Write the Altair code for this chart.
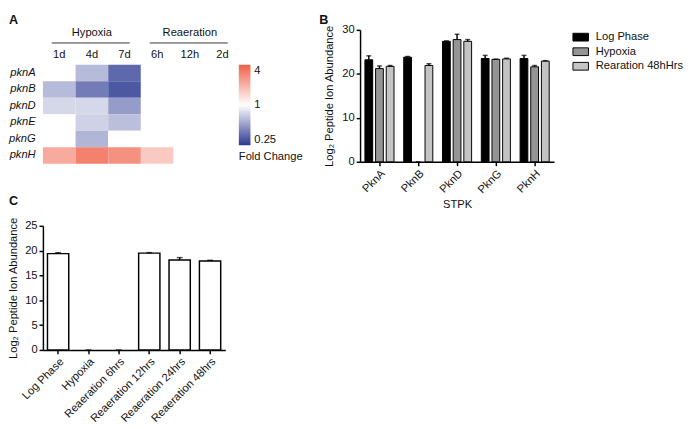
import altair as alt
import pandas as pd

FONT = "Liberation Sans"
INK = "#111111"

# ---------------- Panel A: fold-change heatmap ----------------
genes = ["pknA", "pknB", "pknD", "pknE", "pknG", "pknH"]
timepoints = ["1d", "4d", "7d", "6h", "12h", "2d"]
fc_pknA = [1.0, 0.62, 0.35, 1.0, 1.0, 1.0]
fc_pknB = [0.62, 0.40, 0.31, 1.0, 1.0, 1.0]
fc_pknD = [0.76, 0.76, 0.50, 1.0, 1.0, 1.0]
fc_pknE = [1.0, 0.73, 0.64, 1.0, 1.0, 1.0]
fc_pknG = [1.0, 0.60, 1.0, 1.0, 1.0, 1.0]
fc_pknH = [2.1, 3.0, 2.6, 1.6, 1.0, 1.0]
phase_names = ["Hypoxia", "Reaeration"]
phase_first = [0, 3]
phase_last = [2, 5]
legend_values = [0.25, 1, 4]

# ---------------- Panel B: STPK peptide abundance ----------------
stpk = ["PknA", "PknB", "PknD", "PknG", "PknH"]
conditions = ["Log Phase", "Hypoxia", "Rearation 48hHrs"]
log_mean = [23.2, 23.8, 27.4, 23.5, 23.5]
log_err = [0.9, 0.15, 0.1, 0.7, 0.7]
hyp_mean = [21.2, None, 27.8, 23.3, 21.6]
hyp_err = [0.6, None, 1.2, 0.05, 0.3]
rea_mean = [21.7, 21.9, 27.4, 23.4, 22.9]
rea_err = [0.2, 0.4, 0.4, 0.15, 0.1]

# ---------------- Panel C: PknG over time ----------------
samples = ["Log Phase", "Hypoxia", "Reaeration 6hrs", "Reaeration 12hrs",
           "Reaeration 24hrs", "Reaeration 48hrs"]
c_mean = [19.4, None, None, 19.5, 18.1, 17.9]
c_err = [0.2, None, None, 0.1, 0.5, 0.15]

Y_TITLE = "Log\u2082 Peptide Ion Abundance"

# ======== build A ========
rows = []
for g, vals in zip(genes, [fc_pknA, fc_pknB, fc_pknD, fc_pknE, fc_pknG, fc_pknH]):
    for i, (t, v) in enumerate(zip(timepoints, vals)):
        rows.append({"gene": g, "tp": t, "ci": i, "fc": v})
dfA = pd.DataFrame(rows)
dfCols = pd.DataFrame({"tp": timepoints, "ci": list(range(len(timepoints)))})
dfHdr = pd.DataFrame({"phase": phase_names, "first": phase_first, "last": phase_last})

xA_scale = alt.Scale(domain=[0, 6], nice=False, zero=False)

heat = alt.Chart(dfA).transform_calculate(ci_end="datum.ci + 1").mark_rect().encode(
    x=alt.X("ci:Q", scale=xA_scale, axis=None),
    x2="ci_end:Q",
    y=alt.Y("gene:N", scale=alt.Scale(domain=genes, range=[52, 154], paddingInner=0, paddingOuter=0),
            axis=alt.Axis(title=None, domain=False, ticks=False, labelFontStyle="italic",
                          labelFontSize=11.5, labelPadding=8, labelColor=INK, labelFont=FONT)),
    color=alt.Color("fc:Q",
                    scale=alt.Scale(type="log", domain=[0.25, 1, 4],
                                    range=["#2b3990", "#ffffff", "#f06048"], interpolate="rgb"),
                    legend=alt.Legend(orient="none", legendX=202, legendY=52, title="Fold Change",
                                      titleOrient="bottom", titleFontWeight="normal", titleFontSize=11.5,
                                      titleFont=FONT, titleColor=INK, titlePadding=5,
                                      values=legend_values, format="~g", gradientLength=83,
                                      gradientThickness=12, gradientStrokeWidth=0,
                                      labelFontSize=11.5, labelFont=FONT, labelColor=INK, labelOffset=4)),
)

collab = alt.Chart(dfCols).transform_calculate(cx="datum.ci + 0.5").mark_text(
    fontSize=11.5, font=FONT, color=INK, baseline="middle").encode(
    x=alt.X("cx:Q", scale=xA_scale, axis=None), y=alt.value(42), text="tp:N")

hdr_rule = alt.Chart(dfHdr).transform_calculate(
    r1="datum.first + 0.27", r2="datum.last + 0.66").mark_rule(color="#333333", strokeWidth=1).encode(
    x=alt.X("r1:Q", scale=xA_scale, axis=None), x2="r2:Q", y=alt.value(29.5))

hdr_text = alt.Chart(dfHdr).transform_calculate(
    mid="(datum.first + datum.last + 1) / 2").mark_text(
    fontSize=11.5, font=FONT, color=INK, baseline="middle").encode(
    x=alt.X("mid:Q", scale=xA_scale, axis=None), y=alt.value(19), text="phase:N")

letterA = alt.Chart(pd.DataFrame({"t": ["A"]})).mark_text(
    align="left", baseline="top", fontSize=13, fontWeight="bold", font=FONT, color=INK).encode(
    x=alt.value(-35), y=alt.value(0), text="t:N")

panelA = alt.layer(heat, collab, hdr_rule, hdr_text, letterA).properties(width=202, height=154)

# ======== build B ========
recs = []
for cond, means, errs in zip(conditions, [log_mean, hyp_mean, rea_mean], [log_err, hyp_err, rea_err]):
    for s, m, e in zip(stpk, means, errs):
        recs.append({"stpk": s, "cond": cond, "mean": m, "err": e})
dfB = pd.DataFrame(recs)

axis_common = dict(domainColor="black", domainWidth=1.5, tickColor="black", tickWidth=1.5,
                   tickSize=4, labelFontSize=11.5, labelFont=FONT, labelColor=INK,
                   titleFontSize=11.5, titleFont=FONT, titleColor=INK, titleFontWeight="normal",
                   grid=False, labelOverlap=False)

axBx = alt.Axis(title="STPK", labelAngle=-45, labelPadding=2, titlePadding=4, **axis_common)
axBy = alt.Axis(title=Y_TITLE, values=[0, 10, 20, 30], labelPadding=2, titlePadding=8, **axis_common)
xB = alt.X("stpk:N", scale=alt.Scale(domain=stpk, paddingInner=0.25, paddingOuter=0.125), axis=axBx)
xoB = alt.XOffset("cond:N", scale=alt.Scale(domain=conditions, paddingInner=0.27, paddingOuter=0))
yB_scale = alt.Scale(domain=[0, 30], range=[152, 16], nice=False)

baseB = alt.Chart(dfB).transform_calculate(upper="datum.mean + datum.err")

barsB = baseB.mark_bar(stroke="black", strokeWidth=1).encode(
    x=xB, xOffset=xoB,
    y=alt.Y("mean:Q", scale=yB_scale, axis=axBy),
    color=alt.Color("cond:N", scale=alt.Scale(domain=conditions, range=["#000000", "#959595", "#c4c4c4"]),
                    legend=alt.Legend(orient="none", legendX=219, legendY=15, title=None,
                                      symbolType="M-1,-0.5H1V0.5H-1Z", symbolSize=256,
                                      symbolStrokeColor="black", symbolStrokeWidth=1,
                                      labelFontSize=11.5, labelFont=FONT, labelColor=INK,
                                      labelOffset=7, rowPadding=0)),
)
errB = baseB.mark_rule(color="black", strokeWidth=1.5).encode(
    x=xB, xOffset=xoB, y=alt.Y("mean:Q", scale=yB_scale, axis=axBy), y2="upper:Q")
capB = baseB.mark_tick(color="black", thickness=1.5, size=5).encode(
    x=xB, xOffset=xoB, y=alt.Y("upper:Q", scale=yB_scale, axis=axBy))
letterB = alt.Chart(pd.DataFrame({"t": ["B"]})).mark_text(
    align="left", baseline="top", fontSize=13, fontWeight="bold", font=FONT, color=INK).encode(
    x=alt.value(-42), y=alt.value(0), text="t:N")

panelB = alt.layer(barsB, errB, capB, letterB).properties(width=200, height=152)

# ======== build C ========
dfC = pd.DataFrame({"sample": samples, "mean": c_mean, "err": c_err})
axCx = alt.Axis(title=None, labelAngle=-45, labelPadding=2, **axis_common)
axCy = alt.Axis(title=Y_TITLE, values=[0, 5, 10, 15, 20, 25], labelPadding=2, titlePadding=6,
                **axis_common)
xC = alt.X("sample:N", scale=alt.Scale(domain=samples, paddingInner=0.3, paddingOuter=0.15), axis=axCx)
yC_scale = alt.Scale(domain=[0, 25], nice=False)
baseC = alt.Chart(dfC).transform_calculate(upper="datum.mean + datum.err")
barsC = baseC.mark_bar(fill="white", stroke="black", strokeWidth=1.5).encode(
    x=xC, y=alt.Y("mean:Q", scale=yC_scale, axis=axCy))
errC = baseC.mark_rule(color="black", strokeWidth=1.5).encode(
    x=xC, y=alt.Y("mean:Q", scale=yC_scale, axis=axCy), y2="upper:Q")
capC = baseC.mark_tick(color="black", thickness=1.5, size=6).encode(
    x=xC, y=alt.Y("upper:Q", scale=yC_scale, axis=axCy))
letterC = alt.Chart(pd.DataFrame({"t": ["C"]})).mark_text(
    align="left", baseline="top", fontSize=13, fontWeight="bold", font=FONT, color=INK).encode(
    x=alt.value(-35), y=alt.value(-31), text="t:N")

panelC = alt.layer(barsC, errC, capC, letterC).properties(width=188, height=128)

left = alt.vconcat(panelA, panelC, spacing=33)
chart = alt.hconcat(left, panelB, spacing=17).resolve_scale(color="independent").resolve_legend(
    color="independent").properties(padding=0)
chart = chart.configure(font=FONT).configure_view(stroke=None)

chart.save("out.html", embed_options={"renderer": "svg", "actions": False})
